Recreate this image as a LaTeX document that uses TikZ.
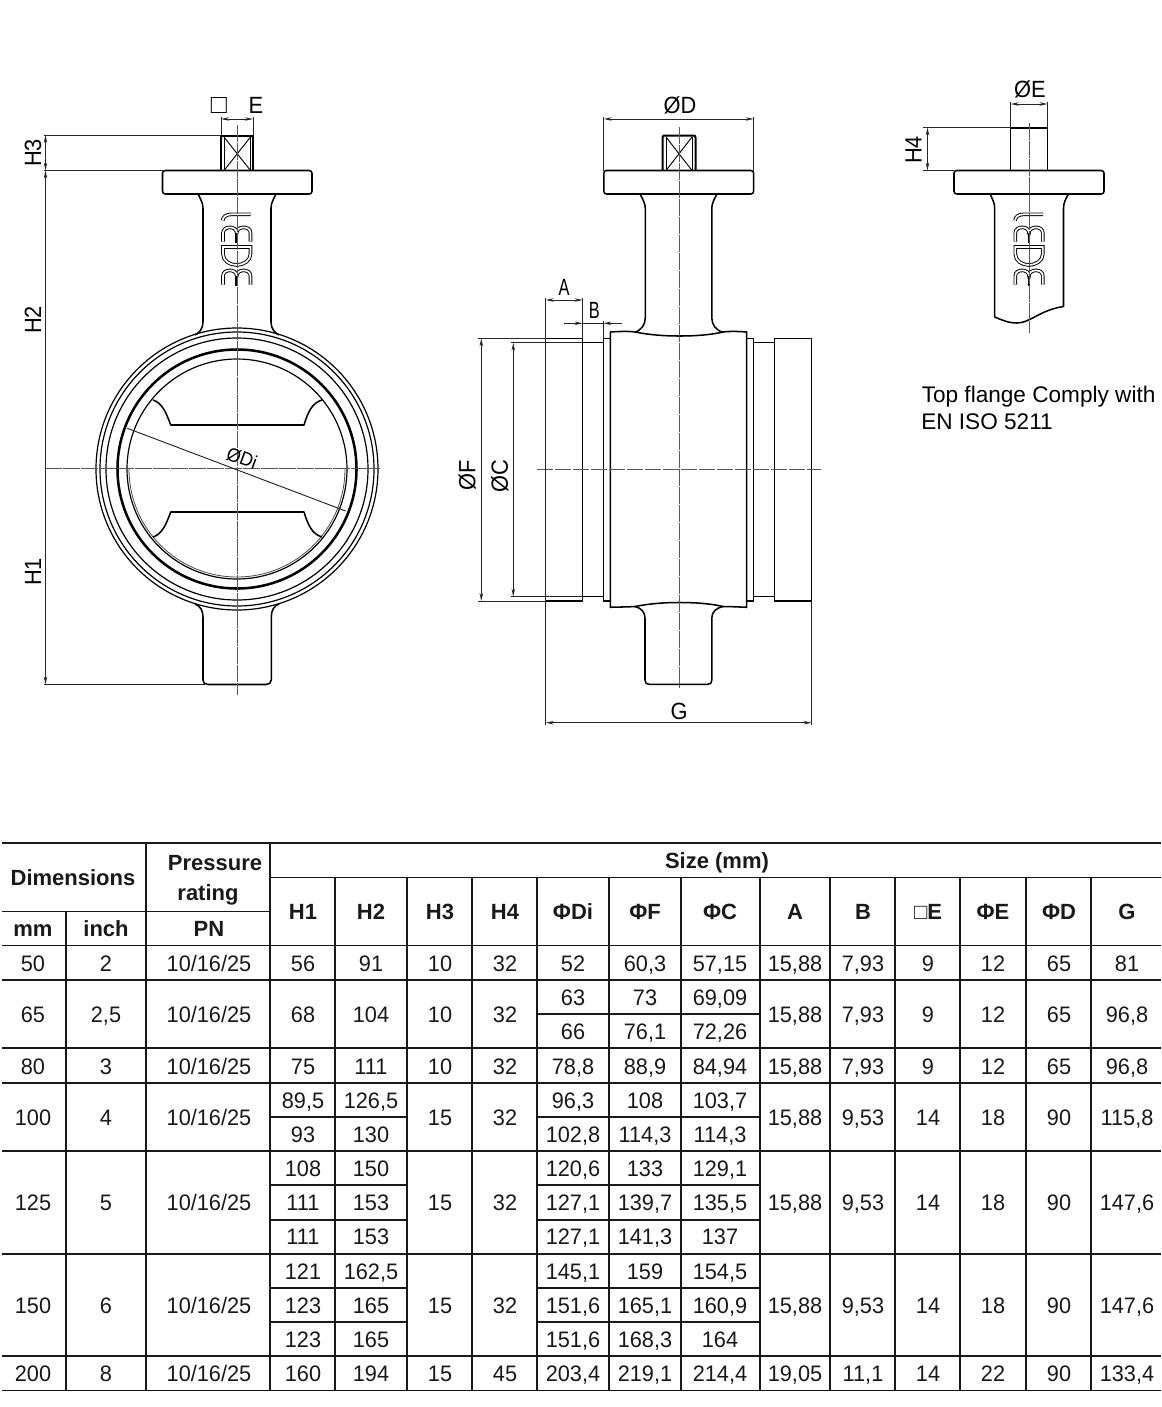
\documentclass[tikz,border=0pt]{standalone}
\usepackage{fontspec}
\setmainfont{Liberation Sans}
\newfontfamily\tallfont[FakeStretch=0.93]{Liberation Sans}
\newfontfamily\cellfont[FakeStretch=0.97]{Liberation Sans}
\usetikzlibrary{arrows.meta}
\tikzset{
  outl/.style={line width=1.15pt,black,line join=round},
  heavy/.style={line width=1.9pt,black},
  fine/.style={line width=.7pt,black},
  cline/.style={line width=.75pt,black!65,dash pattern=on 12.5pt off 1pt},
  dimline/.style={line width=.7pt,black!85},
  dimarr/.style={dimline,{Stealth[length=6pt,width=2.6pt]}-{Stealth[length=6pt,width=2.6pt]}},
  extl/.style={line width=.65pt,black!85},
  lab/.style={font=\fontsize{17.6pt}{19pt}\tallfont,inner sep=0pt},
  notetext/.style={font=\fontsize{16.95pt}{19pt}\selectfont,inner sep=0pt,anchor=base west},
  tcell/.style={font=\fontsize{16.8pt}{18pt}\cellfont,inner sep=0pt,anchor=base,text=black!90},
  thead/.style={font=\fontsize{16.5pt}{18pt}\selectfont\bfseries,inner sep=0pt,anchor=base,text=black!90},
  grid/.style={line width=1.15pt,black!90},
  logoline/.style={line width=.7pt,draw=black,double=white,double distance=1.3pt,line cap=butt},
  flangebox/.style={outl,rounded corners=2pt},
}
\newcommand\tc[3]{\node[tcell] (c#1-#2) at (#1,#2+8) {#3};}
\newcommand\thc[3]{\node[thead] (h#1-#2) at (#1,#2+8) {#3};}
\newcommand\tail[7]{\tc{795}{#1}{#2}\tc{863}{#1}{#3}\tc{928}{#1}{#4}\tc{993}{#1}{#5}\tc{1059}{#1}{#6}\tc{1127}{#1}{#7}}
\newcommand\hd[4]{\tc{33}{#1}{#2}\tc{106}{#1}{#3}\tc{209}{#1}{#4}}
\newcommand\brand[1]{%
 \begin{scope}[shift={(#1-236.7,0)}]
  \draw[logoline] (250.7,214.3) -- (231.7,214.3) .. controls (226,214.3) and (223,217) .. (222.7,220.5);
  \foreach \d in {0,43}{
   \draw[logoline] (223,241.5+\d) -- (223,233+\d) .. controls (223,225.5+\d) and (236.7,225.5+\d) .. (236.7,233+\d) .. controls (236.7,225.5+\d) and (250.5,225.5+\d) .. (250.5,233+\d) -- (250.5,241.5+\d);
   \draw[line width=2.2pt,black] (236.7,233+\d) -- (236.7,243+\d);
  }
  \draw[logoline] (223,247) -- (250.5,247) -- (250.5,254) .. controls (250.5,261) and (243,265) .. (236.7,265) .. controls (230,265) and (223,261) .. (223,254) -- cycle;
 \end{scope}}
\begin{document}
\begin{tikzpicture}[x=.75pt,y=-.75pt]
\useasboundingbox (0,0) rectangle (1161,1407);
\fill[white] (0,0) rectangle (1161,1407);

%%%%% LEFT VIEW
\draw[flangebox] (162.5,170.5) rectangle (312,194);
\draw[outl] (198,194) .. controls (200,198) and (203,203) .. (203,208) -- (203,322) .. controls (203,329) and (199,333) .. (195,335);
\draw[outl] (276,194) .. controls (274,198) and (271,203) .. (271,208) -- (271,322) .. controls (271,329) and (275,333) .. (279,335);
\draw[outl] (195,604) .. controls (200,606) and (203,610) .. (203,617) -- (203,680) .. controls (203,683) and (205,684.5) .. (208,684.5) -- (266,684.5) .. controls (269,684.5) and (271.3,683) .. (271.3,680) -- (271.3,617) .. controls (271.3,610) and (274,606) .. (279,604);
\foreach \r in {141,137,131,110}{\draw[fine,line width=.9pt] (237,469) circle (\r);}
\draw[heavy] (237,469) circle (119.5);
\draw[line width=.6pt,black!70] (345,469) arc[start angle=0,end angle=180,radius=108];
\draw[outl] (153,400) .. controls (162,403) and (166,412) .. (170.7,425) -- (304,425) .. controls (308,412) and (312,403) .. (322,400);
\draw[outl] (153,537) .. controls (162,534) and (166,525) .. (170.7,512) -- (304,512) .. controls (308,525) and (312,534) .. (322,537);
% square stem
\draw[heavy,line width=1.5pt] (221,170.5) -- (221,135.5) -- (253,135.5) -- (253,170.5);
\draw[fine] (224,137) -- (224,170.5) (250.5,137) -- (250.5,170.5);
\draw[fine] (224,137) -- (250.5,170.5) (250.5,137) -- (224,170.5);
\brand{236.7}
\draw[cline] (237,125) -- (237,695);
\draw[cline] (45,468.5) -- (380,468.5);
% dimensions
\draw[extl] (44,135) -- (221,135) (44,170.5) -- (162.5,170.5) (44,684.5) -- (205,684.5);
\draw[dimarr] (45.5,135) -- (45.5,170.5);
\draw[dimarr] (45.5,170.5) -- (45.5,684.5);
\node[lab,rotate=90] (lh3) at (33,153) {H3};
\node[lab,rotate=90] (lh2) at (33,320) {H2};
\node[lab,rotate=90] (lh1) at (33,572) {H1};
\draw[extl] (221,135) -- (221,117) (253,135) -- (253,117);
\draw[dimarr] (221,119) -- (253,119);
\node[lab,font=\fontsize{20pt}{20pt}\selectfont] (lsq) at (219,105.5) {□};
\node[lab] (le) at (256,105.5) {E};
\draw[dimline] (127.3,428.3) -- (345.7,511);
\node[lab,rotate=-20,font=\fontsize{14.5pt}{15pt}\tallfont] (ldi) at (242,458) {ØDi};

%%%%% MIDDLE VIEW
\draw[flangebox] (603.8,170.5) rectangle (753.6,194);
\draw[outl] (640,194) .. controls (642,198) and (645.3,203) .. (645.3,208) -- (645.3,318) .. controls (645.3,325) and (641,330) .. (635,332.5);
\draw[outl] (717,194) .. controls (715,198) and (711.8,203) .. (711.8,208) -- (711.8,318) .. controls (711.8,325) and (716,330) .. (723,332.5);
\draw[outl] (610.3,332) .. controls (618,331.5) and (628,331) .. (635,332) .. controls (650,335) and (665,336) .. (679,336) .. controls (695,336) and (710,335) .. (723,332) .. controls (730,331) and (740,331.5) .. (746.7,332) -- (746.7,607.3) .. controls (740,607) and (730,606.5) .. (723,606.5) .. controls (710,603.5) and (695,602.5) .. (679,602.5) .. controls (665,602.5) and (650,603.5) .. (635,606.5) .. controls (628,607) and (618,607) .. (610.3,607.3) -- cycle;
\draw[outl] (635,606.5) .. controls (641,608) and (645,612) .. (645,618) -- (645,680) .. controls (645,683) and (646.5,684.3) .. (649,684.3) -- (708,684.3) .. controls (710.5,684.3) and (711.8,683) .. (711.8,680) -- (711.8,618) .. controls (711.8,612) and (716,608) .. (723,606.5);
\draw[outl] (545.7,338.3) rectangle (582.7,601);
\draw[outl] (603.3,338.3) rectangle (610.3,601);
\draw[outl] (582.7,342.7) -- (603.3,342.7) (582.7,596.7) -- (603.3,596.7);
\draw[outl] (746.7,338.3) rectangle (753.7,601);
\draw[outl] (753.7,342.7) -- (774.7,342.7) (753.7,596.7) -- (774.7,596.7);
\draw[outl] (774.7,338.3) rectangle (811.7,601);
% square stem
\draw[heavy,line width=1.5pt,rounded corners=1.5pt] (662.5,170.5) -- (662.5,135.5) -- (695.5,135.5) -- (695.5,170.5);
\draw[fine] (666,137) -- (666,170.5) (692,137) -- (692,170.5);
\draw[fine] (666,137) -- (692,170.5) (692,137) -- (666,170.5);
\draw[cline] (679,127) -- (679,688);
\draw[cline] (536.7,469.3) -- (821,469.3);
% dimensions
\draw[extl] (603.8,117) -- (603.8,170.5) (753.6,117) -- (753.6,170.5);
\draw[dimarr] (603.8,119) -- (753.6,119);
\node[lab] (ld) at (680,105.5) {ØD};
\draw[extl] (545.7,298) -- (545.7,725) (582.7,298) -- (582.7,338.3) (811.7,601) -- (811.7,725) (603.3,321) -- (603.3,338.3);
\draw[dimarr] (545.7,300) -- (582.7,300);
\node[lab] (la) at (564,287) {\scalebox{.75}[1]{A}};
\draw[dimline,{Stealth[length=6pt,width=2.6pt]}-] (582.7,323.3) -- (564,323.3);
\draw[dimline,{Stealth[length=6pt,width=2.6pt]}-] (603.3,323.3) -- (621.7,323.3);
\draw[dimline] (582.7,323.3) -- (603.3,323.3);
\node[lab] (lb) at (594.3,310.7) {\scalebox{.75}[1]{B}};
\draw[extl] (478,338.3) -- (545.7,338.3) (478,601) -- (545.7,601);
\draw[extl] (510.5,342.7) -- (582.7,342.7) (510.5,596.7) -- (582.7,596.7);
\draw[dimarr] (481.3,338.3) -- (481.3,601);
\draw[dimarr] (513.3,342.7) -- (513.3,596.7);
\node[lab,rotate=90] (lf) at (467.3,475.7) {ØF};
\node[lab,rotate=90] (lc) at (499.8,475.7) {ØC};
\draw[dimarr] (545.7,722.7) -- (811.7,722.7);
\node[lab] (lg) at (679,711) {G};

%%%%% RIGHT VIEW
\draw[flangebox] (954,170.5) rectangle (1104,194);
\draw[outl] (1010.7,170.5) -- (1010.7,127.5) (1047.5,170.5) -- (1047.5,127.5);
\draw[heavy,line width=1.5pt] (1010.7,127.5) -- (1047.5,127.5);
\draw[outl] (990,194) .. controls (992,198) and (994.7,203) .. (994.7,208) -- (994.7,317) .. controls (1002,320) and (1008,323) .. (1017,323) .. controls (1030,323) and (1040,310) .. (1063.5,306.5) -- (1063.5,208) .. controls (1063.5,203) and (1066,198) .. (1068.5,194);
\brand{1029}
\draw[cline] (1029,123) -- (1029,333);
\draw[extl] (1010.7,102) -- (1010.7,127.5) (1047.5,102) -- (1047.5,127.5);
\draw[dimarr] (1010.7,104) -- (1047.5,104);
\node[lab] (lpe) at (1030,89.5) {ØE};
\draw[extl] (923,127.5) -- (1010.7,127.5) (923,170.5) -- (954,170.5);
\draw[dimarr] (927.5,127.5) -- (927.5,170.5);
\node[lab,rotate=90] (lh4) at (913.5,150) {H4};
\node[notetext] (note1) at (921.5,402) {Top flange Comply with};
\node[notetext] (note2) at (921,429.5) {EN ISO 5211};

%%%%% TABLE GRID
\foreach \y in {843,945.5,980,1048,1083,1151,1254,1356,1390.5}{\draw[grid] (2,\y) -- (1161,\y);}
\draw[grid] (2,911.5) -- (270,911.5);
\draw[grid] (270,877.5) -- (1161,877.5);
\foreach \y in {1014}{\draw[grid] (537,\y) -- (760,\y);}
\foreach \y in {1117,1185,1220,1288,1322}{\draw[grid] (270,\y) -- (407,\y) (537,\y) -- (760,\y);}
\draw[grid] (66,911.5) -- (66,1390.5);
\foreach \x in {146,270}{\draw[grid] (\x,843) -- (\x,1390.5);}
\foreach \x in {335,407,472,537,609,681,760,830,895,960,1026,1091}{\draw[grid] (\x,877.5) -- (\x,1390.5);}

%%%%% TABLE HEAD
\thc{73}{877}{Dimensions}
\thc{215}{862}{Pressure}
\thc{208}{892}{rating}
\thc{33}{928}{mm}
\thc{106}{928}{inch}
\thc{209}{928}{PN}
\thc{717}{860}{Size (mm)}
\thc{303}{911}{H1}\thc{371}{911}{H2}\thc{440}{911}{H3}\thc{505}{911}{H4}
\thc{573}{911}{ΦDi}\thc{645}{911}{ΦF}\thc{720}{911}{ΦC}\thc{795}{911}{A}\thc{863}{911}{B}
\thc{928}{911}{□E}\thc{993}{911}{ΦE}\thc{1059}{911}{ΦD}\thc{1127}{911}{G}

%%%%% TABLE BODY
\hd{963}{50}{2}{10/16/25}
\tc{303}{963}{56}\tc{371}{963}{91}\tc{440}{963}{10}\tc{505}{963}{32}\tc{573}{963}{52}\tc{645}{963}{60,3}\tc{720}{963}{57,15}
\tail{963}{15,88}{7,93}{9}{12}{65}{81}

\hd{1014}{65}{2,5}{10/16/25}
\tc{303}{1014}{68}\tc{371}{1014}{104}\tc{440}{1014}{10}\tc{505}{1014}{32}
\tc{573}{997}{63}\tc{645}{997}{73}\tc{720}{997}{69,09}
\tc{573}{1031}{66}\tc{645}{1031}{76,1}\tc{720}{1031}{72,26}
\tail{1014}{15,88}{7,93}{9}{12}{65}{96,8}

\hd{1066}{80}{3}{10/16/25}
\tc{303}{1066}{75}\tc{371}{1066}{111}\tc{440}{1066}{10}\tc{505}{1066}{32}\tc{573}{1066}{78,8}\tc{645}{1066}{88,9}\tc{720}{1066}{84,94}
\tail{1066}{15,88}{7,93}{9}{12}{65}{96,8}

\hd{1117}{100}{4}{10/16/25}
\tc{303}{1100}{89,5}\tc{371}{1100}{126,5}\tc{573}{1100}{96,3}\tc{645}{1100}{108}\tc{720}{1100}{103,7}
\tc{303}{1134}{93}\tc{371}{1134}{130}\tc{573}{1134}{102,8}\tc{645}{1134}{114,3}\tc{720}{1134}{114,3}
\tc{440}{1117}{15}\tc{505}{1117}{32}
\tail{1117}{15,88}{9,53}{14}{18}{90}{115,8}

\hd{1202}{125}{5}{10/16/25}
\tc{303}{1168}{108}\tc{371}{1168}{150}\tc{573}{1168}{120,6}\tc{645}{1168}{133}\tc{720}{1168}{129,1}
\tc{303}{1202}{111}\tc{371}{1202}{153}\tc{573}{1202}{127,1}\tc{645}{1202}{139,7}\tc{720}{1202}{135,5}
\tc{303}{1236}{111}\tc{371}{1236}{153}\tc{573}{1236}{127,1}\tc{645}{1236}{141,3}\tc{720}{1236}{137}
\tc{440}{1202}{15}\tc{505}{1202}{32}
\tail{1202}{15,88}{9,53}{14}{18}{90}{147,6}

\hd{1305}{150}{6}{10/16/25}
\tc{303}{1271}{121}\tc{371}{1271}{162,5}\tc{573}{1271}{145,1}\tc{645}{1271}{159}\tc{720}{1271}{154,5}
\tc{303}{1305}{123}\tc{371}{1305}{165}\tc{573}{1305}{151,6}\tc{645}{1305}{165,1}\tc{720}{1305}{160,9}
\tc{303}{1339}{123}\tc{371}{1339}{165}\tc{573}{1339}{151,6}\tc{645}{1339}{168,3}\tc{720}{1339}{164}
\tc{440}{1305}{15}\tc{505}{1305}{32}
\tail{1305}{15,88}{9,53}{14}{18}{90}{147,6}

\hd{1373}{200}{8}{10/16/25}
\tc{303}{1373}{160}\tc{371}{1373}{194}\tc{440}{1373}{15}\tc{505}{1373}{45}\tc{573}{1373}{203,4}\tc{645}{1373}{219,1}\tc{720}{1373}{214,4}
\tail{1373}{19,05}{11,1}{14}{22}{90}{133,4}
\end{tikzpicture}
\end{document}
